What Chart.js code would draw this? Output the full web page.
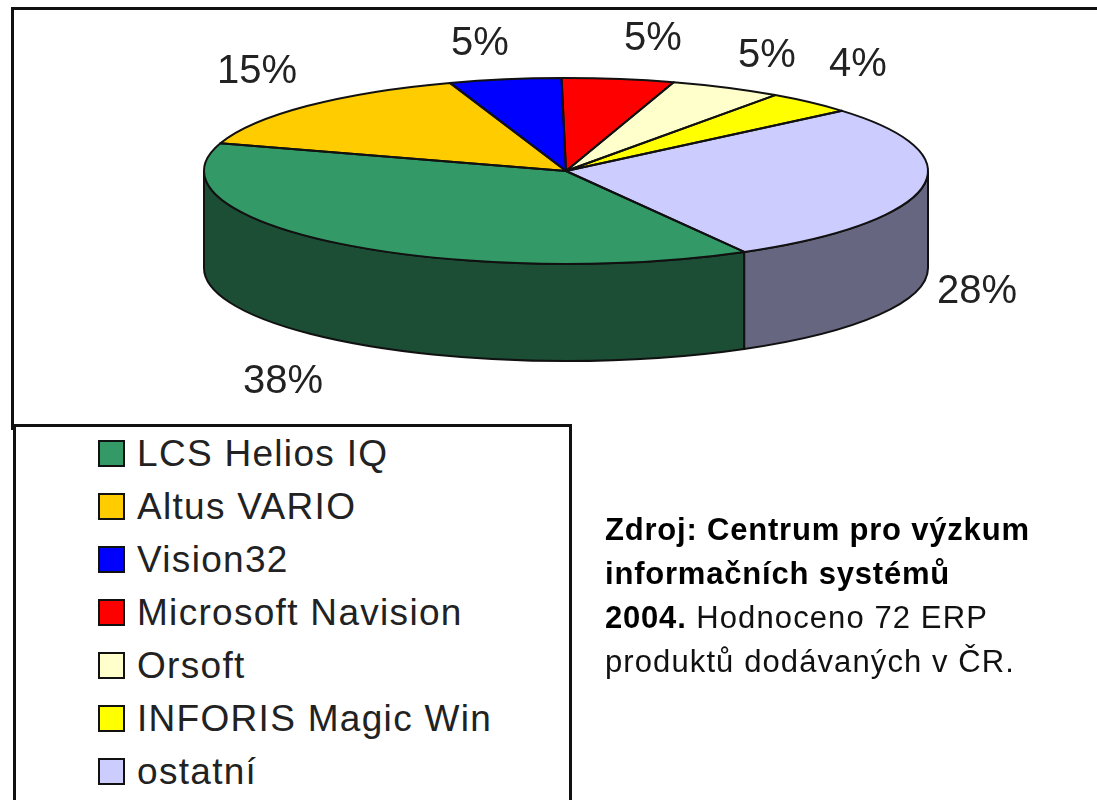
<!DOCTYPE html>
<html>
<head>
<meta charset="utf-8">
<script src="https://cdn.jsdelivr.net/npm/chart.js@4"></script>
<style>
    html, body { margin: 0; padding: 0; background: #fff; overflow: hidden; }
    body { width: 1097px; height: 800px; position: relative; font-family: "Liberation Sans", Arial, sans-serif; color: #222; filter: blur(0.4px); }
    #frame { position: absolute; left: 11px; top: 7px; width: 1090px; height: 420px; border-top: 3px solid #111; border-left: 3px solid #111; }
    #chart { position: absolute; left: 0; top: 0; }
    #legend { position: absolute; left: 13px; top: 424px; width: 553px; height: 380px; border: 3px solid #111; background: #fff; }
    .row { position: absolute; left: 82px; height: 30px; white-space: nowrap; font-size: 37px; line-height: 28px; letter-spacing: 1.3px; }
    .row i { position: absolute; left: 0; top: 0; width: 23px; height: 23px; border: 2px solid #111; }
    .row span { position: absolute; left: 39px; top: 0; }
    #source { position: absolute; left: 605px; top: 508px; font-size: 31px; line-height: 44px; white-space: nowrap; color: #111; letter-spacing: 1.1px; }
    #source b { color: #000; letter-spacing: 0.8px; }
</style>
</head>
<body>
<div id="frame"></div>
<canvas id="chart" width="1097" height="800"></canvas>
<div id="legend"></div>
<div id="source"><b>Zdroj: Centrum pro výzkum<br>informačních systémů<br>2004.</b> Hodnoceno 72 ERP<br>produktů dodávaných v ČR.</div>

<script>
const categories = ['LCS Helios IQ', 'Altus VARIO', 'Vision32', 'Microsoft Navision', 'Orsoft', 'INFORIS Magic Win', 'ostatní'];
const shares = [38, 15, 5, 5, 5, 4, 28];
const topColors = ['#339966', '#FFCC00', '#0000FF', '#FF0000', '#FFFFCC', '#FFFF00', '#CCCCFF'];
const sideColors = ['#1C4E36', '#806600', '#000080', '#800000', '#808066', '#808000', '#666680'];

// where the percent labels sit, same order as the slices
const labelPos = [[283, 382], [257, 72], [480, 44], [653, 39], [767, 56], [858, 65], [977, 292]];

const squash = 93 / 362;
const depth = 97;
const pieY = 171;

// the chart is a flat pie, this plugin tilts it and adds the wall under it
const tiltPlugin = {
    id: 'tilt',
    beforeDatasetsDraw(chart) {
        const ctx = chart.ctx;
        const arcs = chart.getDatasetMeta(0).data;
        ctx.save();
        ctx.strokeStyle = '#111';
        ctx.lineWidth = 2;
        arcs.forEach((el, i) => {
            // front half of the ellipse only, angles can run past 360
            [[0, Math.PI], [2 * Math.PI, 3 * Math.PI]].forEach(range => {
                const a = Math.max(el.startAngle, range[0]);
                const b = Math.min(el.endAngle, range[1]);
                if (a >= b) return;
                const ry = el.outerRadius * squash;
                ctx.beginPath();
                ctx.ellipse(el.x, pieY, el.outerRadius, ry, 0, a, b);
                ctx.ellipse(el.x, pieY + depth, el.outerRadius, ry, 0, b, a, true);
                ctx.closePath();
                ctx.fillStyle = sideColors[i];
                ctx.fill();
                ctx.stroke();
            });
        });
        ctx.restore();

        ctx.save();
        const c = arcs[0];
        ctx.translate(c.x, pieY);
        ctx.scale(1, squash);
        ctx.translate(-c.x, -c.y);
    },
    afterDatasetsDraw(chart) {
        const ctx = chart.ctx;
        ctx.restore();

        // outlines again without the squash, else the lines go thin at the top
        const arcs = chart.getDatasetMeta(0).data;
        ctx.save();
        ctx.strokeStyle = '#111';
        ctx.lineWidth = 2;
        ctx.lineJoin = 'round';
        arcs.forEach(el => {
            ctx.beginPath();
            ctx.moveTo(el.x, pieY);
            ctx.ellipse(el.x, pieY, el.outerRadius, el.outerRadius * squash, 0, el.startAngle, el.endAngle);
            ctx.closePath();
            ctx.stroke();
        });
        ctx.restore();

        ctx.save();
        ctx.fillStyle = '#222';
        ctx.font = '40px "Liberation Sans", Arial, sans-serif';
        ctx.textAlign = 'center';
        ctx.textBaseline = 'middle';
        shares.forEach((v, i) => {
            ctx.fillText(v + '%', labelPos[i][0], labelPos[i][1]);
        });
        ctx.restore();
    }
};

const chart = new Chart(document.getElementById('chart').getContext('2d'), {
    type: 'pie',
    data: {
        labels: categories,
        datasets: [{
            data: shares,
            backgroundColor: topColors,
            borderWidth: 0
        }]
    },
    options: {
        responsive: false,
        animation: false,
        rotation: 150.5,
        layout: { padding: { left: 204, right: 169, top: 38, bottom: 38 } },
        plugins: {
            legend: { display: false },
            tooltip: { enabled: false }
        }
    },
    plugins: [tiltPlugin]
});

// html legend built from the chart's own legend items
const legendBox = document.getElementById('legend');
chart.options.plugins.legend.labels.generateLabels(chart).forEach((item, i) => {
    const row = document.createElement('div');
    row.className = 'row';
    row.style.top = (13 + i * 53) + 'px';
    const box = document.createElement('i');
    box.style.background = item.fillStyle;
    const txt = document.createElement('span');
    txt.textContent = item.text;
    row.appendChild(box);
    row.appendChild(txt);
    legendBox.appendChild(row);
});
</script>
</body>
</html>
